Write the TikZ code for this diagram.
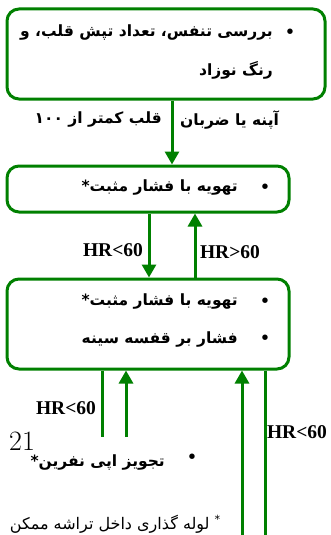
\documentclass[tikz,border=0pt]{standalone}
\usepackage{fontspec}
\usetikzlibrary{arrows.meta,positioning}
\TeXXeTstate=1
\newfontfamily\fa[Script=Arabic]{DejaVu Sans}
\newfontfamily\hrfont{Liberation Serif}
\definecolor{fgreen}{RGB}{0,128,0}
\newcommand{\rl}[1]{\beginR #1\endR}
\tikzset{
  box/.style={rectangle, draw=fgreen, line width=3pt, rounded corners=12pt},
  fa/.style={font=\fa\bfseries\fontsize{15.5}{18}\selectfont, inner sep=0pt},
  faNote/.style={font=\fa\fontsize{16}{18}\selectfont, inner sep=0pt},
  dot/.style={font=\fa\bfseries\fontsize{15.5}{18}\selectfont, inner sep=0pt},
  hr/.style={font=\hrfont\bfseries\fontsize{19.5}{22}\selectfont, inner sep=0pt},
  solidArrow/.style={-{Triangle[width=14pt,length=13pt]}, draw=fgreen, line width=3pt},
  solidLine/.style={draw=fgreen, line width=3pt}
}

\begin{document}
\begin{tikzpicture}[x=1pt,y=-1pt]
\useasboundingbox (0,0) rectangle (331,535);

% Boxes
\node[box, minimum width=318pt, minimum height=90pt] (check) at (166,54) {};
\node[box, minimum width=282pt, minimum height=46pt] (ppv) at (148,189) {};
\node[box, minimum width=282pt, minimum height=90pt] (ppvcc) at (148,324) {};

% Top box text
\node[dot] at (290,33) {\textbullet};
\node[fa, anchor=east] (check1) at (273,33) {\rl{بررسی تنفس، تعداد تپش قلب، و}};
\node[fa, anchor=east] (check2) at (273,70) {\rl{رنگ نوزاد}};

% Condition beside first arrow
\node[fa, anchor=west] (apnea) at (180,120) {\rl{آپنه یا ضربان}};
\node[fa, anchor=east] (hr100) at (162,120) {\rl{قلب کمتر از ۱۰۰}};

% Middle box text
\node[dot] at (265,188) {\textbullet};
\node[fa, anchor=east] (ppv1) at (238,188) {\rl{تهویه با فشار مثبت*}};

% Bottom box text
\node[dot] at (265,302) {\textbullet};
\node[fa, anchor=east] (ppvcc1) at (238,302) {\rl{تهویه با فشار مثبت*}};
\node[dot] at (265,339) {\textbullet};
\node[fa, anchor=east] (ppvcc2) at (238,339) {\rl{فشار بر قفسه سینه}};

% HR labels
\node[hr] (hrA) at (113,250) {HR<60};
\node[hr] (hrB) at (230,252) {HR>60};
\node[hr] (hrC) at (66,408) {HR<60};
\node[hr] (hrD) at (297,432) {HR<60};

% Epinephrine
\node[font=\fontsize{28}{30}\selectfont, inner sep=0pt] (pg) at (22,441) {21};
\node[dot] at (192,458) {\textbullet};
\node[fa, anchor=east] (epi) at (165,462) {\rl{تجویز اپی نفرین*}};

% Footnote
\node[faNote, anchor=east] (note) at (221,524) {\rl{\textsuperscript{*} لوله گذاری داخل تراشه ممکن}};

% Free ends
\coordinate (e1) at (102,437);
\coordinate (e2) at (126,437);
\coordinate (e3) at (242,540);
\coordinate (e4) at (265,540);

% Arrows
\draw[solidArrow] ([xshift=6pt]check.south) -- ([xshift=24pt]ppv.north);
\draw[solidArrow] ([xshift=1pt]ppv.south) -- ([xshift=1pt]ppvcc.north);
\draw[solidArrow] ([xshift=47pt]ppvcc.north) -- ([xshift=47pt]ppv.south);
\draw[solidLine] (e1 |- ppvcc.south) -- (e1);
\draw[solidArrow] (e2) -- (e2 |- ppvcc.south);
\draw[solidArrow] (e3) -- (e3 |- ppvcc.south);
\draw[solidLine] (e4 |- ppvcc.south) -- (e4);

\end{tikzpicture}
\end{document}
